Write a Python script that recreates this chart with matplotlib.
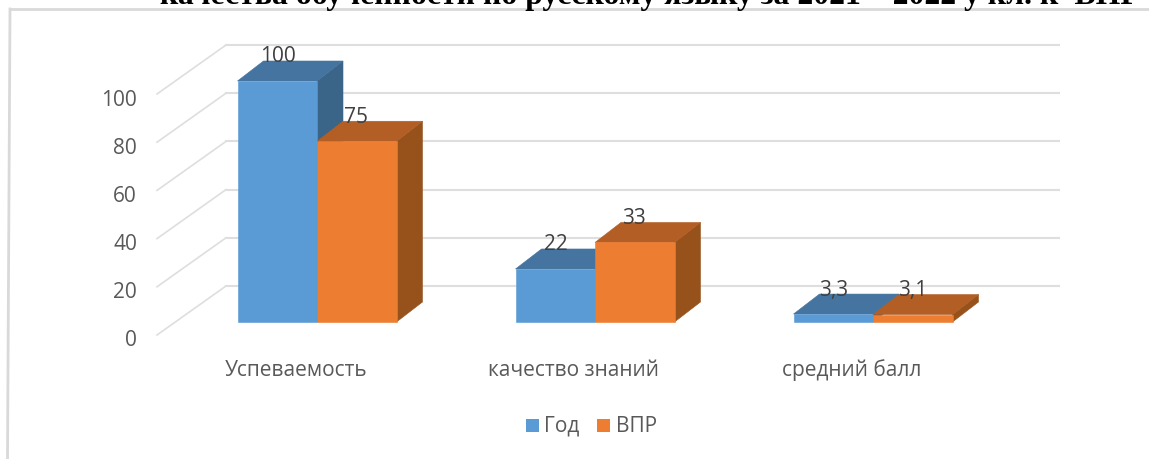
import matplotlib
matplotlib.use("Agg")
import matplotlib.pyplot as plt
from matplotlib.patches import Polygon

categories = ['Успеваемость', 'качество знаний', 'средний балл']
series_names = ['Год', 'ВПР']
god = [100, 22, 3.3]
vpr = [75, 33, 3.1]
god_labels = ['100', '22', '3,3']
vpr_labels = ['75', '33', '3,1']
y_ticks = [0, 20, 40, 60, 80, 100]

W, H = 1149, 459
PX_Y = 2.41   # pixels per unit on the value axis
PX_X = 278.0  # pixels per category

plt.rcParams['font.family'] = ['Open Sans', 'DejaVu Sans']
fig = plt.figure(figsize=(W / 100, H / 100), dpi=100)
ax = fig.add_axes([0, 0, 1, 1])
# x = 0 is the centre of the first pair of bars, y = 0 the bar floor
ax.set_xlim((0 - 317) / PX_X, (W - 317) / PX_X)
ax.set_ylim((322 - H) / PX_Y, 322 / PX_Y)
ax.axis('off')

bar_w = 79.5 / PX_X
dx = 26 / PX_X
dy = 20 / PX_Y
# floor and walls of the 3d box
floor_x0 = (157 - 317) / PX_X
floor_y0 = (322 - 335) / PX_Y
wall_x = (226 - 317) / PX_X
wall_dy = 49 / PX_Y
wall_end = (1059 - 317) / PX_X

grid = '#dedede'
for t in y_ticks:
    y = floor_y0 + t
    ax.plot([floor_x0, wall_x], [y, y + wall_dy], color=grid, lw=1.2, zorder=1)
    ax.plot([wall_x, wall_end], [y + wall_dy, y + wall_dy], color=grid, lw=1.5, zorder=1)
    ax.text((137 - 317) / PX_X, y - 6 / PX_Y, str(t), ha='right', va='center',
            fontsize=15, color='#595959')

colors = [('#5b9bd5', '#44749f', '#3a6488'), ('#ed7d31', '#b25e25', '#97521c')]


def draw_bar(x0, val, cols, z):
    x1 = x0 + bar_w
    ax.add_patch(Polygon([(x1, 0), (x1 + dx, dy), (x1 + dx, val + dy), (x1, val)],
                         fc=cols[2], ec=cols[2], lw=0.4, zorder=z))
    ax.add_patch(Polygon([(x0, val), (x1, val), (x1 + dx, val + dy), (x0 + dx, val + dy)],
                         fc=cols[1], ec=cols[1], lw=0.4, zorder=z))
    ax.add_patch(Polygon([(x0, 0), (x1, 0), (x1, val), (x0, val)],
                         fc=cols[0], ec=cols[0], lw=0.4, zorder=z + 0.1))


for i in range(len(categories)):
    draw_bar(i - bar_w, god[i], colors[0], 2)
    draw_bar(i, vpr[i], colors[1], 3)
    ax.text(i - bar_w / 2 - 2 / PX_X + dx * 0.1, god[i] + dy + 4 / PX_Y, god_labels[i], ha='center',
            va='center', fontsize=15, color='#404040', zorder=5)
    ax.text(i + bar_w / 2 - 3 / PX_X + dx * 0.1, vpr[i] + dy + 4 / PX_Y, vpr_labels[i], ha='center',
            va='center', fontsize=15, color='#404040', zorder=5)
    ax.text(i - 21 / PX_X, -48 / PX_Y, categories[i], ha='center', va='center',
            fontsize=15, color='#595959')

# legend drawn by hand so it sits like the reference
leg_y = (322 - 426) / PX_Y
for name, col, sq, tx in zip(series_names, colors, [526, 597], [544, 616]):
    ax.add_patch(Polygon([((sq - 317) / PX_X, leg_y - 6 / PX_Y), ((sq + 13 - 317) / PX_X, leg_y - 6 / PX_Y),
                          ((sq + 13 - 317) / PX_X, leg_y + 7 / PX_Y), ((sq - 317) / PX_X, leg_y + 7 / PX_Y)],
                         fc=col[0], ec='none'))
    ax.text((tx - 317) / PX_X, leg_y, name, ha='left', va='center', fontsize=15, color='#595959')

# frame of the pasted picture, slightly skewed on the left
fig.add_artist(plt.Line2D([10 / W, 1], [1 - 9 / H, 1 - 9 / H], color='#d9d9d9', lw=2.0))
fig.add_artist(plt.Line2D([10 / W, 7.5 / W], [1 - 9 / H, 0], color='#d9d9d9', lw=2.0))

# title line, cut off by the top edge
fig.text(650 / W, 1 + 4 / H, 'качества обученности по русскому языку за 2021 – 2022 у кл. к  ВПР',
         ha='center', va='center', fontsize=22.9, fontweight='bold',
         family='Liberation Serif', color='black')

fig.savefig('out.png', dpi=100)
